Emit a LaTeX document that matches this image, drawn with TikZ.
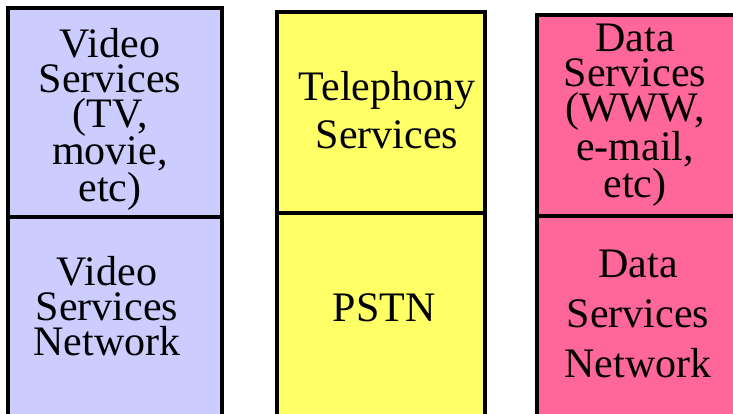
\documentclass[tikz,border=0pt]{standalone}
\usepackage{fontspec}
\setmainfont{Liberation Serif}
\begin{document}
\begin{tikzpicture}[x=1pt, y=-1pt,
    inner sep=0pt, outer sep=0pt,
    block/.style={draw=black, line width=4pt, fill=#1},
    svctext/.style={align=center, anchor=north, font=\fontsize{42}{#1}\selectfont},
    svctext/.default=35,
]
    % Colors
    \definecolor{videoblue}{RGB}{204,204,255}
    \definecolor{phoneyellow}{RGB}{255,255,102}
    \definecolor{datapink}{RGB}{255,102,153}

    % Frame
    \useasboundingbox (0,0) rectangle (733,414);
    \clip (0,0) rectangle (733,414);

    % Video column
    \draw[block=videoblue] (8,8)   rectangle (222,217);
    \draw[block=videoblue] (8,217) rectangle (222,440);
    \node[svctext] (videosvc) at (110,28)  {Video\\Services\\(TV,\\movie,\\etc)};
    \node[svctext] (videonet) at (107,256) {Video\\Services\\Network};

    % Telephony column
    \draw[block=phoneyellow] (277,12)  rectangle (485,213);
    \draw[block=phoneyellow] (277,213) rectangle (485,440);
    \node[svctext=48] (phonesvc) at (387,71)  {Telephony\\Services};
    \node[svctext]    (pstn)     at (384,294) {PSTN};

    % Data column
    \draw[block=datapink] (537,15)  rectangle (752,216);
    \draw[block=datapink] (537,216) rectangle (752,440);
    \node[svctext]    (datasvc) at (635,24)  {Data\\Services\\(WWW,\\e-mail,\\etc)};
    \node[svctext=50] (datanet) at (638,250) {Data\\Services\\Network};
\end{tikzpicture}
\end{document}
